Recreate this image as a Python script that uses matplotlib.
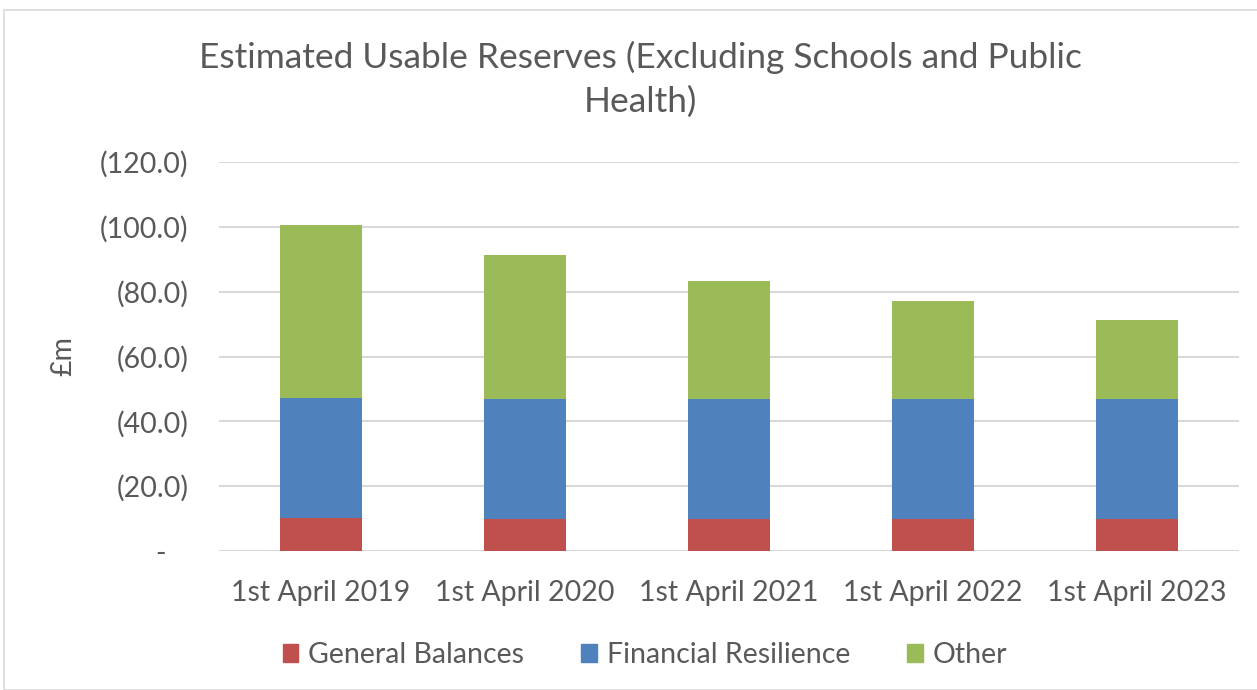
import matplotlib
matplotlib.use("Agg")
import matplotlib.pyplot as plt
from matplotlib.patches import Rectangle, Patch
import numpy as np

categories = ["1st April 2019", "1st April 2020", "1st April 2021", "1st April 2022", "1st April 2023"]
general_balances = [10.2, 10.0, 10.0, 10.0, 10.0]
financial_resilience = [37.0, 36.9, 37.0, 37.0, 37.0]
other = [53.4, 44.5, 36.4, 30.2, 24.3]
yticks = [0, 20, 40, 60, 80, 100, 120]
ytick_labels = ["-   ", "(20.0)", "(40.0)", "(60.0)", "(80.0)", "(100.0)", "(120.0)"]

plt.rcParams['font.family'] = ['Lato', 'DejaVu Sans']
txt = '#595959'

W, H = 1257, 690
fig = plt.figure(figsize=(W/100, H/100), dpi=100)
fig.patches.append(Rectangle((4/W, 0), 1.2, (H-10)/H, transform=fig.transFigure,
                             fill=False, edgecolor='#d9d9d9', linewidth=1.2))

ax = fig.add_axes([219/W, 139/H, 1020/W, (551-162)/H])
x = np.arange(len(categories))
w = 0.4
c_red, c_blue, c_green = '#c0504d', '#4f81bd', '#9bbb59'
gb = np.array(general_balances)
fr = np.array(financial_resilience)
ax.bar(x, gb, w, color=c_red, zorder=3)
ax.bar(x, fr, w, bottom=gb, color=c_blue, zorder=3)
ax.bar(x, other, w, bottom=gb+fr, color=c_green, zorder=3)

ax.set_xlim(-0.5, len(categories)-0.5)
ax.set_ylim(0, 120)
ax.set_yticks(yticks)
ax.set_yticklabels(ytick_labels, fontsize=20.5, color=txt)
ax.set_xticks(x)
ax.set_xticklabels(categories, fontsize=20.5, color=txt)
ax.tick_params(axis='y', length=0, pad=22)
ax.tick_params(axis='x', length=0, pad=21)
ax.yaxis.grid(True, color='#d9d9d9', linewidth=1.5, zorder=0)
for s in ax.spines.values():
    s.set_visible(False)
ax.set_ylabel("£m", fontsize=20.5, color=txt, labelpad=17)

fig.text(640/W, 1-57/H, "Estimated Usable Reserves (Excluding Schools and Public", ha='center', va='center', fontsize=25.4, color=txt)
fig.text(640/W, 1-102/H, "Health)", ha='center', va='center', fontsize=25.4, color=txt)

handles = [Patch(color=c_red), Patch(color=c_blue), Patch(color=c_green)]
fig.legend(handles, ["General Balances", "Financial Resilience", "Other"], loc='center',
           bbox_to_anchor=(645/W, 1-655/H), ncol=3, frameon=False, fontsize=20.5,
           labelcolor=txt, handlelength=0.55, handleheight=0.55, columnspacing=2.0, handletextpad=0.35)

fig.savefig("out.png", dpi=100)
